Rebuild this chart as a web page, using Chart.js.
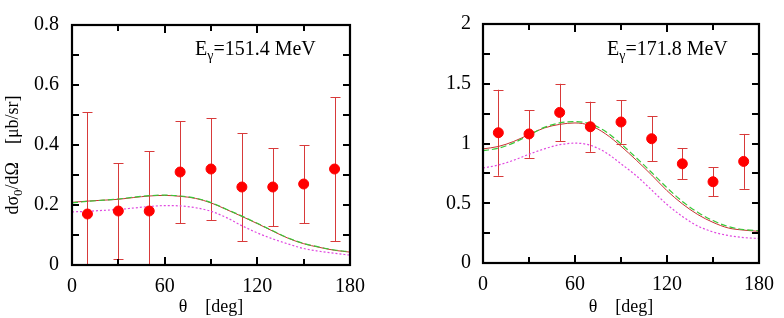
<!DOCTYPE html>
<html>
<head>
<meta charset="utf-8">
<script src="https://cdn.jsdelivr.net/npm/chart.js@4.4.1/dist/chart.umd.min.js"></script>
<style>
  html, body { margin: 0; padding: 0; background: #ffffff; }
  #wrap { position: relative; width: 784px; height: 318px; overflow: hidden; }
  .box { position: absolute; top: 0; width: 392px; height: 318px; }
  #boxL { left: 0; }
  #boxR { left: 392px; }
</style>
</head>
<body>
<div id="wrap">
  <div class="box" id="boxL"><canvas id="cL" width="392" height="318"></canvas></div>
  <div class="box" id="boxR"><canvas id="cR" width="392" height="318"></canvas></div>
</div>
<script>
// ---------- data ----------
const thetaCurve = [0,10,20,30,40,50,60,70,80,90,100,110,120,130,140,150,160,170,180];
const thetaObs   = [10,30,50,70,90,110,130,150,170];

// E_gamma = 151.4 MeV
const obsL   = [0.17,0.18,0.18,0.31,0.32,0.26,0.26,0.27,0.32];
const errHiL = [0.51,0.34,0.38,0.48,0.49,0.44,0.39,0.40,0.56];
const errLoL = [0.00,0.02,0.00,0.14,0.15,0.08,0.13,0.14,0.08];
const redL   = [0.209,0.213,0.216,0.219,0.225,0.230,0.232,0.229,0.222,0.207,0.185,0.162,0.138,0.113,0.089,0.071,0.059,0.049,0.043];
const greenL = [0.207,0.212,0.216,0.220,0.226,0.231,0.233,0.230,0.223,0.208,0.186,0.163,0.139,0.114,0.090,0.072,0.060,0.050,0.044];
const magL   = [0.177,0.179,0.182,0.185,0.190,0.195,0.198,0.197,0.191,0.179,0.158,0.131,0.107,0.087,0.070,0.055,0.046,0.039,0.033];

// E_gamma = 171.8 MeV
const obsR   = [1.09,1.08,1.26,1.14,1.18,1.04,0.83,0.68,0.85];
const errHiR = [1.45,1.28,1.50,1.35,1.36,1.23,0.96,0.80,1.08];
const errLoR = [0.73,0.88,1.02,0.93,1.00,0.85,0.70,0.56,0.62];
const redR   = [0.955,0.975,1.017,1.075,1.13,1.16,1.172,1.15,1.08,0.977,0.86,0.736,0.605,0.495,0.406,0.34,0.293,0.275,0.265];
const greenR = [0.940,0.960,1.005,1.070,1.135,1.172,1.183,1.165,1.10,0.997,0.88,0.757,0.63,0.515,0.425,0.355,0.305,0.280,0.270];
const magR   = [0.795,0.820,0.860,0.910,0.955,0.990,1.003,0.985,0.925,0.830,0.73,0.610,0.49,0.390,0.310,0.260,0.230,0.213,0.205];

const xTicksMajor = [0,60,120,180];
const yMaxL = 0.8, yStepL = 0.1, yLabelStepL = 0.2;
const yMaxR = 2,   yStepR = 0.25, yLabelStepR = 0.5;
const energyL = '151.4 MeV';
const energyR = '171.8 MeV';

// ---------- style ----------
const SERIF = '"Liberation Serif", "Times New Roman", serif';
const C_POINT = '#ff0000';
const C_ERR = '#d83a3a';
const C_RED = '#c83232';
const C_GREEN = '#38c838';
const C_MAG = '#e048e0';

function pts(xs, ys) { return xs.map((x, i) => ({ x: x, y: ys[i] })); }

function isMultiple(v, step) {
  const r = v / step;
  return Math.abs(r - Math.round(r)) < 1e-6;
}

// frame + inward ticks on all four sides
const framePlugin = {
  id: 'frame',
  afterDraw(chart) {
    const ctx = chart.ctx, a = chart.chartArea;
    const xs = chart.scales.x, ys = chart.scales.y;
    ctx.save();
    ctx.strokeStyle = '#000';
    ctx.lineWidth = 2;
    ctx.beginPath();
    xs.ticks.forEach(t => {
      const px = Math.round(xs.getPixelForValue(t.value));
      const len = isMultiple(t.value, 60) ? 8 : 6;
      ctx.moveTo(px, a.bottom); ctx.lineTo(px, a.bottom - len);
      ctx.moveTo(px, a.top);    ctx.lineTo(px, a.top + len);
    });
    ys.ticks.forEach(t => {
      const py = Math.round(ys.getPixelForValue(t.value));
      ctx.moveTo(a.left, py);  ctx.lineTo(a.left + 7, py);
      ctx.moveTo(a.right, py); ctx.lineTo(a.right - 7, py);
    });
    ctx.stroke();
    ctx.lineWidth = 2.2;
    ctx.strokeRect(a.left, a.top, a.right - a.left, a.bottom - a.top);
    ctx.restore();
  }
};

// error bars from data arrays
const errorBarPlugin = {
  id: 'errbars',
  beforeDatasetsDraw(chart, args, opts) {
    const ctx = chart.ctx, xs = chart.scales.x, ys = chart.scales.y, a = chart.chartArea;
    ctx.save();
    ctx.strokeStyle = C_ERR;
    ctx.lineWidth = 1;
    opts.x.forEach((xv, i) => {
      const px = Math.round(xs.getPixelForValue(xv)) + 0.5;
      const hi = ys.getPixelForValue(opts.hi[i]);
      const loV = opts.lo[i];
      const lo = Math.min(ys.getPixelForValue(loV), a.bottom);
      ctx.beginPath();
      ctx.moveTo(px, hi); ctx.lineTo(px, lo);
      ctx.moveTo(px - 5, Math.round(hi) + 0.5); ctx.lineTo(px + 5, Math.round(hi) + 0.5);
      if (loV > 0) { ctx.moveTo(px - 5, Math.round(lo) + 0.5); ctx.lineTo(px + 5, Math.round(lo) + 0.5); }
      ctx.stroke();
    });
    ctx.restore();
  }
};

// energy label and y title (with sub-scripts)
const textPlugin = {
  id: 'texts',
  afterDraw(chart, args, opts) {
    const ctx = chart.ctx;
    ctx.save();
    ctx.fillStyle = '#000';
    ctx.textBaseline = 'alphabetic';
    ctx.textAlign = 'left';
    // E_gamma label
    let x = opts.ex, y = opts.ey;
    ctx.font = '20px ' + SERIF;
    ctx.fillText('E', x, y); x += ctx.measureText('E').width;
    ctx.font = '14px ' + SERIF;
    ctx.fillText('γ', x, y + 5); x += ctx.measureText('γ').width;
    ctx.font = '20px ' + SERIF;
    ctx.fillText('=' + opts.energy, x, y);
    // y-axis title
    if (opts.ytitle) {
      ctx.translate(opts.tx, opts.ty);
      ctx.rotate(-Math.PI / 2);
      const f1 = '18px ' + SERIF, f2 = '13px ' + SERIF;
      const parts = [['dσ', f1, 0], ['0', f2, 4], ['/dΩ    [μb/sr]', f1, 0]];
      let w = 0;
      parts.forEach(p => { ctx.font = p[1]; w += ctx.measureText(p[0]).width; });
      let cx = -w / 2;
      parts.forEach(p => { ctx.font = p[1]; ctx.fillText(p[0], cx, 6 + p[2]); cx += ctx.measureText(p[0]).width; });
    }
    ctx.restore();
  }
};

function makeChart(id, cfg) {
  const labelStep = cfg.labelStep;
  return new Chart(document.getElementById(id), {
    type: 'line',
    data: {
      datasets: [
        { label: 'data', data: pts(thetaObs, cfg.obs), showLine: false, pointRadius: 5, pointHoverRadius: 5,
          pointBackgroundColor: C_POINT, pointBorderColor: C_POINT, borderColor: C_POINT, backgroundColor: C_POINT, order: 0 },
        { label: 'red', data: pts(thetaCurve, cfg.red), borderColor: C_RED, borderWidth: 1, pointRadius: 0,
          cubicInterpolationMode: 'monotone', fill: false, order: 2 },
        { label: 'green', data: pts(thetaCurve, cfg.green), borderColor: C_GREEN, borderWidth: 1.2, borderDash: [6, 3], pointRadius: 0,
          cubicInterpolationMode: 'monotone', fill: false, order: 1 },
        { label: 'magenta', data: pts(thetaCurve, cfg.mag), borderColor: C_MAG, borderWidth: 1.2, borderDash: [2, 2], pointRadius: 0,
          cubicInterpolationMode: 'monotone', fill: false, order: 3 }
      ]
    },
    options: {
      responsive: false,
      animation: false,
      events: [],
      layout: { padding: cfg.padding },
      plugins: {
        legend: { display: false },
        tooltip: { enabled: false },
        errbars: { x: thetaObs, hi: cfg.hi, lo: cfg.lo },
        texts: cfg.texts
      },
      scales: {
        x: {
          type: 'linear', min: 0, max: 180,
          afterFit: s => { s.height = cfg.xAxisH; },
          grid: { display: false, drawTicks: false },
          border: { display: false },
          ticks: {
            stepSize: 30, padding: 10, color: '#000',
            font: { family: SERIF, size: 20 },
            maxRotation: 0, autoSkip: false,
            callback: v => (xTicksMajor.includes(v) ? String(v) : '')
          },
          title: { display: true, text: 'θ    [deg]', color: '#000', font: { family: SERIF, size: 18 }, padding: { top: 0, bottom: 0 } }
        },
        y: {
          type: 'linear', min: 0, max: cfg.yMax,
          afterFit: s => { s.width = cfg.yAxisW; },
          grid: { display: false, drawTicks: false },
          border: { display: false },
          ticks: {
            stepSize: cfg.yStep, padding: cfg.yPad, color: '#000',
            font: { family: SERIF, size: 20 }, autoSkip: false,
            callback: v => (isMultiple(v, labelStep) ? String(+v.toFixed(2)) : '')
          }
        }
      }
    },
    plugins: [errorBarPlugin, framePlugin, textPlugin]
  });
}

makeChart('cL', {
  obs: obsL, hi: errHiL, lo: errLoL, red: redL, green: greenL, mag: magL,
  yMax: yMaxL, yStep: yStepL, labelStep: yLabelStepL,
  padding: { top: 12, right: 42, left: 0, bottom: 0 },
  yAxisW: 72, xAxisH: 53, yPad: 13,
  texts: { ex: 195, ey: 55, energy: energyL, ytitle: true, tx: 12, ty: 155 }
});

makeChart('cR', {
  obs: obsR, hi: errHiR, lo: errLoR, red: redR, green: greenR, mag: magR,
  yMax: yMaxR, yStep: yStepR, labelStep: yLabelStepR,
  padding: { top: 11, right: 23, left: 0, bottom: 0 },
  yAxisW: 91, xAxisH: 55, yPad: 12,
  texts: { ex: 215, ey: 55, energy: energyR, ytitle: false }
});
</script>
</body>
</html>
